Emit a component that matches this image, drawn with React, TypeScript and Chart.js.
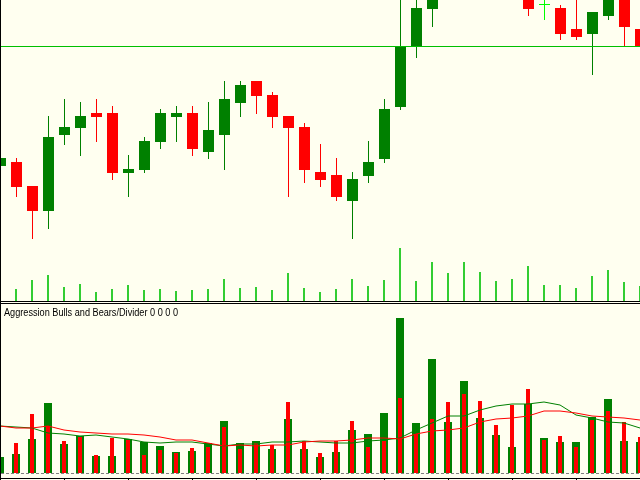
import React, { useEffect, useRef } from "react";
import { Chart, registerables } from "chart.js";

Chart.register(...registerables);

// ---- price panel data (one bar per 16 px, oldest on the left) ----
const openPrices = [
  1.2834, 1.2838, 1.2814, 1.2789, 1.2865, 1.2872, 1.2887, 1.2887, 1.2827, 1.2830,
  1.2858, 1.2883, 1.2887, 1.2848, 1.2865, 1.2897, 1.2919, 1.2905, 1.2884, 1.2873,
  1.2828, 1.2825, 1.2799, 1.2824, 1.2841, 1.2893, 1.2954, 1.2991, 1.3025, 1.3040,
  1.3060, 1.3045, 1.3030, 1.3020, 1.2995, 1.2992, 1.2971, 1.2966, 1.2984, 1.3010,
  1.2971,
];
const highPrices = [
  1.2846, 1.2842, 1.2814, 1.2884, 1.2901, 1.2898, 1.2901, 1.2894, 1.2845, 1.2863,
  1.2891, 1.2894, 1.2894, 1.2898, 1.2919, 1.2919, 1.2919, 1.2908, 1.2884, 1.2877,
  1.2856, 1.2842, 1.2828, 1.2859, 1.2901, 1.3012, 1.3010, 1.3035, 1.3050, 1.3070,
  1.3075, 1.3055, 1.3040, 1.3030, 1.3012, 1.2995, 1.3010, 1.2988, 1.3015, 1.3015,
  1.2975,
];
const lowPrices = [
  1.2828, 1.2803, 1.2761, 1.2771, 1.2855, 1.2844, 1.2858, 1.2820, 1.2803, 1.2827,
  1.2851, 1.2858, 1.2844, 1.2841, 1.2830, 1.2883, 1.2886, 1.2872, 1.2803, 1.2817,
  1.2813, 1.2799, 1.2761, 1.2817, 1.2837, 1.2890, 1.2942, 1.2973, 1.3015, 1.3030,
  1.3035, 1.3012, 1.3005, 1.2984, 1.2980, 1.2960, 1.2960, 1.2925, 1.2980, 1.2953,
  1.2950,
];
const closePrices = [
  1.2842, 1.2813, 1.2789, 1.2863, 1.2873, 1.2884, 1.2883, 1.2827, 1.2831, 1.2859,
  1.2887, 1.2887, 1.2851, 1.2870, 1.2901, 1.2915, 1.2904, 1.2883, 1.2872, 1.2830,
  1.2820, 1.2803, 1.2821, 1.2838, 1.2891, 1.2954, 1.2992, 1.3025, 1.3040, 1.3060,
  1.3045, 1.3030, 1.3020, 1.2991, 1.2995, 1.2966, 1.2963, 1.2988, 1.3008, 1.2973,
  1.2953,
];
const tickVolumes = [
  120, 120, 210, 260, 140, 170, 90, 120, 160, 110,
  120, 100, 110, 120, 220, 130, 140, 110, 280, 130,
  90, 120, 220, 150, 210, 530, 200, 390, 280, 390,
  290, 200, 220, 350, 160, 160, 130, 250, 310, 190,
  150,
];
const levelPrice = 1.2954;

// ---- indicator panel data ----
const indicatorLabel = "Aggression Bulls and Bears/Divider 0 0 0 0";
const bullsValues = [
  160, 190, 340, 700, 290, 370, 170, 170, 340, 310,
  270, 210, 220, 300, 520, 300, 320, 240, 540, 240,
  160, 210, 430, 390, 600, 1550, 500, 1140, 510, 920,
  550, 380, 260, 690, 350, 310, 310, 560, 740, 320,
  310,
];
const bearsValues = [
  0, 300, 590, 470, 320, 360, 180, 350, 330, 180,
  230, 200, 250, 260, 460, 240, 300, 280, 710, 320,
  200, 320, 520, 260, 320, 750, 390, 540, 710, 790,
  720, 480, 680, 840, 330, 370, 260, 530, 620, 510,
  360,
];
const bullsAverage = [
  470, 460, 450, 400, 390, 370, 380, 360, 340, 310,
  300, 310, 310, 290, 270, 290, 290, 310, 310, 320,
  310, 300, 300, 320, 330, 350, 430, 500, 570, 570,
  630, 670, 690, 690, 710, 680, 580, 550, 510, 500,
  450,
];
const bearsAverage = [
  470, 450, 450, 470, 430, 410, 400, 390, 390, 380,
  360, 330, 330, 300, 270, 280, 270, 280, 280, 310,
  320, 320, 330, 350, 350, 340, 390, 420, 430, 450,
  510, 540, 550, 570, 620, 620, 600, 570, 560, 550,
  530,
];

const BG = "#FFFFF0";
const BULL = "#008000";
const BEAR = "#FF0000";
const DOJI = "#00FF00";
const VOL = "#32CD32";
const LEVEL = "#00C000";

const idx = openPrices.map((_, i) => i);
const candleColor = (i: number) =>
  closePrices[i] > openPrices[i] ? BULL : closePrices[i] < openPrices[i] ? BEAR : DOJI;

const bgPlugin = {
  id: "bg",
  beforeDraw(chart: any) {
    const ctx = chart.ctx;
    ctx.save();
    ctx.fillStyle = BG;
    ctx.fillRect(0, 0, chart.width, chart.height);
    ctx.restore();
  },
};

const topFrame = {
  id: "topFrame",
  afterDraw(chart: any) {
    const ctx = chart.ctx;
    ctx.save();
    ctx.fillStyle = "#000";
    ctx.fillRect(0, 0, 1, chart.height);
    ctx.restore();
  },
};

const bottomFrame = {
  id: "bottomFrame",
  afterDraw(chart: any) {
    const ctx = chart.ctx;
    const xs = chart.scales.x;
    const ys = chart.scales.y;
    ctx.save();
    ctx.fillStyle = "#000";
    ctx.fillRect(0, 0, chart.width, 1);
    ctx.fillRect(0, 2, chart.width, 1);
    ctx.fillRect(0, 0, 1, chart.height);
    // bottom axis
    const axisRow = chart.chartArea.bottom - 1;
    ctx.fillRect(0, axisRow, chart.width, 1);
    for (let i = 4; i <= 40; i += 4) {
      const px = Math.round(xs.getPixelForValue(i));
      ctx.fillRect(px, axisRow + 1, 1, 1);
    }
    // zero level
    const zy = Math.round(ys.getPixelForValue(0)) + 0.5;
    ctx.strokeStyle = "#808080";
    ctx.lineWidth = 1;
    ctx.setLineDash([3, 2]);
    ctx.beginPath();
    ctx.moveTo(1, zy);
    ctx.lineTo(chart.width, zy);
    ctx.stroke();
    ctx.setLineDash([]);
    // label
    ctx.fillStyle = "#000";
    ctx.font = "10px 'Liberation Sans', Arial, sans-serif";
    ctx.textBaseline = "alphabetic";
    ctx.textAlign = "left";
    ctx.fillText(indicatorLabel, 4, 15, 174);
    ctx.restore();
  },
};

export default function App() {
  const topRef = useRef<HTMLCanvasElement | null>(null);
  const bottomRef = useRef<HTMLCanvasElement | null>(null);

  useEffect(() => {
    if (!topRef.current || !bottomRef.current) return;

    const barCommon = { grouped: false, inflateAmount: 0, borderWidth: 0 };

    const top = new Chart(topRef.current, {
      type: "bar",
      data: {
        datasets: [
          {
            type: "line",
            data: [
              { x: 0, y: levelPrice },
              { x: 40, y: levelPrice },
            ],
            xAxisID: "x",
            yAxisID: "yl",
            borderColor: LEVEL,
            borderWidth: 1,
            pointRadius: 0,
            order: 0,
          },
          {
            type: "bar",
            data: idx.map((i) => ({ x: i, y: [openPrices[i], closePrices[i]] })),
            xAxisID: "xo",
            yAxisID: "y",
            backgroundColor: idx.map(candleColor),
            barThickness: 11,
            minBarLength: 1,
            order: 1,
            ...barCommon,
          },
          {
            type: "bar",
            data: idx.map((i) => ({ x: i, y: [lowPrices[i], highPrices[i]] })),
            xAxisID: "xo",
            yAxisID: "y",
            backgroundColor: idx.map(candleColor),
            barThickness: 1,
            order: 2,
            ...barCommon,
          },
          {
            type: "bar",
            data: idx.map((i) => ({ x: i, y: tickVolumes[i] })),
            xAxisID: "x",
            yAxisID: "yv",
            backgroundColor: VOL,
            barThickness: 2,
            order: 3,
            ...barCommon,
          },
        ],
      } as any,
      options: {
        animation: false,
        responsive: false,
        devicePixelRatio: 1,
        events: [],
        layout: { padding: 0 },
        plugins: { legend: { display: false }, tooltip: { enabled: false } },
        scales: {
          x: { type: "linear", min: 0, max: 40, offset: false, display: false },
          xo: { type: "linear", min: -1 / 32, max: 40 - 1 / 32, offset: false, display: false },
          y: { type: "linear", min: 1.2699, max: 1.3, display: false },
          yl: { type: "linear", min: 1.26995, max: 1.30005, display: false },
          yv: { type: "linear", min: 0, max: 3010, display: false },
        },
      } as any,
      plugins: [bgPlugin, topFrame],
    });

    const bottom = new Chart(bottomRef.current, {
      type: "bar",
      data: {
        datasets: [
          {
            type: "line",
            data: idx.map((i) => ({ x: i, y: bearsAverage[i] })),
            borderColor: BEAR,
            borderWidth: 1,
            pointRadius: 0,
            tension: 0,
            order: 0,
          },
          {
            type: "line",
            data: idx.map((i) => ({ x: i, y: bullsAverage[i] })),
            borderColor: BULL,
            borderWidth: 1,
            pointRadius: 0,
            tension: 0,
            order: 0,
          },
          {
            type: "bar",
            data: idx.map((i) => ({ x: i, y: bearsValues[i] })),
            backgroundColor: BEAR,
            barThickness: 4,
            order: 1,
            ...barCommon,
          },
          {
            type: "bar",
            data: idx.map((i) => ({ x: i, y: bullsValues[i] })),
            backgroundColor: BULL,
            barThickness: 8,
            order: 2,
            ...barCommon,
          },
        ],
      } as any,
      options: {
        animation: false,
        responsive: false,
        devicePixelRatio: 1,
        events: [],
        layout: { padding: { top: 3, bottom: 1, left: 0, right: 0 } },
        plugins: { legend: { display: false }, tooltip: { enabled: false } },
        scales: {
          x: { type: "linear", min: 0, max: 40, offset: false, display: false },
          y: { type: "linear", min: -60, max: 1690, display: false },
        },
      } as any,
      plugins: [bgPlugin, bottomFrame],
    });

    return () => {
      top.destroy();
      bottom.destroy();
    };
  }, []);

  return (
    <div
      style={{
        position: "absolute",
        left: 0,
        top: 0,
        width: 640,
        height: 480,
        background: BG,
        overflow: "hidden",
      }}
    >
      <canvas ref={topRef} width={640} height={301} style={{ display: "block" }} />
      <canvas ref={bottomRef} width={640} height={179} style={{ display: "block" }} />
    </div>
  );
}
